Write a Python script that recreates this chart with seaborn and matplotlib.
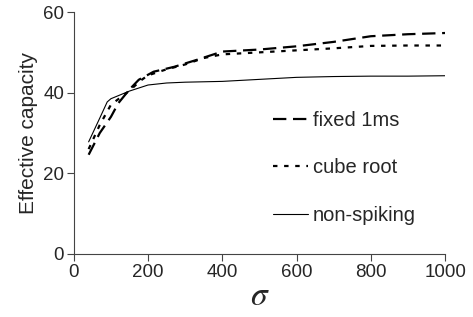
import pandas as pd
import matplotlib.pyplot as plt
import seaborn as sns

# === Data
sigma_fixed = [40, 70, 100, 120, 150, 175, 215, 270, 330, 400, 500, 600, 700, 800, 900, 1000]
cap_fixed = [24.6, 30.0, 34.0, 37.4, 40.8, 43.2, 45.2, 46.4, 48.1, 50.2, 50.7, 51.5, 52.6, 54.0, 54.5, 54.8]

sigma_cube = [40, 70, 100, 150, 180, 200, 250, 300, 350, 400, 500, 600, 700, 800, 900, 1000]
cap_cube = [26.0, 32.0, 37.0, 40.5, 43.0, 44.3, 45.8, 47.0, 48.6, 49.5, 50.0, 50.5, 51.0, 51.6, 51.7, 51.7]

sigma_nonspk = [40, 70, 90, 100, 150, 200, 250, 300, 400, 500, 600, 700, 800, 900, 1000]
cap_nonspk = [27.8, 33.7, 37.7, 38.5, 40.4, 41.9, 42.4, 42.6, 42.8, 43.3, 43.8, 44.0, 44.1, 44.1, 44.2]

series_labels = ["fixed 1ms", "cube root", "non-spiking"]

df = pd.concat([
    pd.DataFrame({"sigma": sigma_fixed, "cap": cap_fixed, "kind": series_labels[0]}),
    pd.DataFrame({"sigma": sigma_cube, "cap": cap_cube, "kind": series_labels[1]}),
    pd.DataFrame({"sigma": sigma_nonspk, "cap": cap_nonspk, "kind": series_labels[2]}),
])

# === Style
sns.set_style("ticks")
plt.rcParams['font.family'] = ['Liberation Sans', 'DejaVu Sans']
plt.rcParams['mathtext.fontset'] = 'stix'

fig = plt.figure(figsize=(4.73, 3.17), dpi=100)
ax = fig.add_axes([0.156, 0.199, 0.785, 0.763])

styles = {
    "fixed 1ms": dict(dashes=(6, 3), lw=1.6),
    "cube root": dict(dashes=(2, 3), lw=1.6),
    "non-spiking": dict(dashes=None, lw=0.8),
}
for name in series_labels:
    sub = df[df["kind"] == name]
    st = styles[name]
    sns.lineplot(data=sub, x="sigma", y="cap", ax=ax, color="black",
                 lw=st["lw"], label=name)
    if st["dashes"] is not None:
        ax.lines[-1].set_dashes(st["dashes"])

ax.set_xlim(0, 1000)
ax.set_ylim(0, 60)
ax.set_xticks(range(0, 1001, 200))
ax.set_yticks(range(0, 61, 20))
ax.tick_params(labelsize=13.5, length=5, width=0.8, color="#444444", pad=2)
for sp in ["left", "bottom"]:
    ax.spines[sp].set_linewidth(0.8)
    ax.spines[sp].set_color("#444444")
sns.despine(ax=ax)

ax.set_ylabel("Effective capacity", fontsize=15, labelpad=4)
ax.set_xlabel(r"$\sigma$", fontsize=24, labelpad=0)

leg = ax.legend(loc="upper left", bbox_to_anchor=(0.536, 0.59), frameon=False,
                fontsize=14.5, handlelength=1.75, labelspacing=1.4, handletextpad=0.25,
                borderpad=0, borderaxespad=0)

fig.savefig("out.png", dpi=100)
